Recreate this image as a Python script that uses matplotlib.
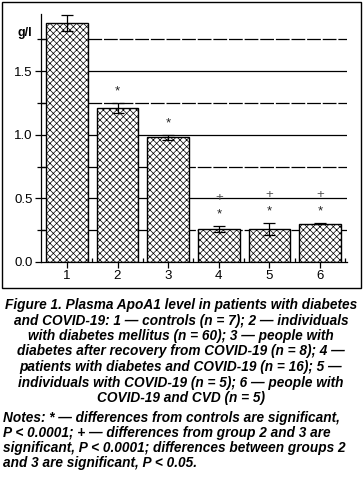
import matplotlib
matplotlib.use("Agg")
import matplotlib.pyplot as plt
from matplotlib.patches import Rectangle

# datos
groups = ["1", "2", "3", "4", "5", "6"]
apoa1 = [1.88, 1.21, 0.98, 0.26, 0.26, 0.30]
err = [0.065, 0.04, 0.02, 0.025, 0.05, 0.005]
star = [False, True, True, True, True, True]
plus = [False, False, False, True, True, True]

caption = [
    "Figure 1. Plasma ApoA1 level in patients with diabetes",
    "and COVID-19: 1 \u2014 controls (n = 7); 2 \u2014 individuals",
    "with diabetes mellitus (n = 60); 3 \u2014 people with",
    "diabetes after recovery from COVID-19 (n = 8); 4 \u2014",
    "patients with diabetes and COVID-19 (n = 16); 5 \u2014",
    "individuals with COVID-19 (n = 5); 6 \u2014 people with",
    "COVID-19 and CVD (n = 5)",
]
notes = [
    "Notes: * \u2014 differences from controls are significant,",
    "P < 0.0001; + \u2014 differences from group 2 and 3 are",
    "significant, P < 0.0001; differences between groups 2",
    "and 3 are significant, P < 0.05.",
]

plt.rcParams["font.family"] = ["Liberation Sans", "DejaVu Sans"]
plt.rcParams["hatch.linewidth"] = 0.5

W, H = 364, 480
fig = plt.figure(figsize=(W / 100, H / 100), dpi=100)
ax = fig.add_axes([41 / W, 1 - 262 / H, (347 - 41) / W, (262 - 14) / H])

x = list(range(1, len(groups) + 1))

# lineas de referencia
for v in [0.5, 1.0, 1.5]:
    ax.axhline(v, color="black", lw=0.9, zorder=0)
for v in [0.25, 0.75, 1.25, 1.75]:
    ax.axhline(v, color="black", lw=0.9, ls=(0, (11, 1.5)), zorder=0)

ax.bar(x, apoa1, width=0.82, color="white", edgecolor="black",
       hatch="xxxxx", linewidth=1.0, zorder=2)
ax.errorbar(x, apoa1, yerr=err, fmt="none", ecolor="black",
            elinewidth=0.9, capsize=4, capthick=0.9, zorder=3)

for xi, m, e, s, p in zip(x, apoa1, err, star, plus):
    ys = m + e + 0.09
    if s:
        ax.text(xi, ys, "*", ha="center", va="center", fontsize=9.5, color="#222222")
    if p:
        ax.text(xi, ys + 0.13, "+", ha="center", va="center", fontsize=9.5, color="#555555")

ax.set_xlim(0.49, 6.53)
ax.set_ylim(0, 1.95)
ax.set_xticks(x)
ax.set_xticklabels(groups)
ax.set_xticks([1.5, 2.5, 3.5, 4.5, 5.5, 6.5], minor=True)
ax.set_yticks([0, 0.5, 1.0, 1.5])
ax.set_yticklabels(["0.0", "0.5", "1.0", "1.5"])
ax.set_yticks([0.25, 0.75, 1.25, 1.75], minor=True)
ax.tick_params(axis="both", which="major", labelsize=9.5, length=4, width=0.9,
               color="black", pad=2)
ax.tick_params(axis="x", which="minor", direction="in", length=3, width=0.9)
ax.tick_params(axis="y", which="minor", direction="inout", length=6, width=0.9)
for sp in ["top", "right"]:
    ax.spines[sp].set_visible(False)
for sp in ["left", "bottom"]:
    ax.spines[sp].set_linewidth(0.9)

fig.text(25 / W, 1 - 33 / H, "g/l", ha="center", va="center", fontsize=9, fontweight="bold")

# marco
fig.patches.append(Rectangle((2 / W, 1 - 288 / H), 359 / W, 286 / H,
                             transform=fig.transFigure, fill=False,
                             edgecolor="black", lw=1.0))

cap_y = [305, 320.5, 336, 351.5, 367, 382.5, 398]
for yy, line in zip(cap_y, caption):
    fig.text(181 / W, 1 - yy / H, line, ha="center", va="center",
             fontsize=9.8, fontweight="bold", fontstyle="italic")
note_y = [418, 433, 448, 463]
for yy, line in zip(note_y, notes):
    fig.text(3 / W, 1 - yy / H, line, ha="left", va="center",
             fontsize=9.8, fontweight="bold", fontstyle="italic")

fig.savefig("out.png", dpi=100)
